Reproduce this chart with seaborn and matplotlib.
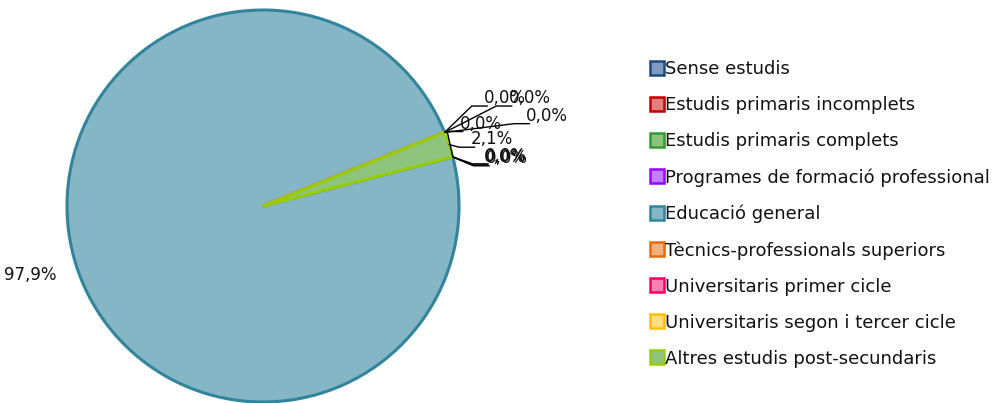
import numpy as np
import matplotlib
matplotlib.use("Agg")
import matplotlib.pyplot as plt
from matplotlib.lines import Line2D
import seaborn as sns

# Dades del gràfic
categories = ["Sense estudis", "Estudis primaris incomplets", "Estudis primaris complets",
              "Programes de formació professional", "Educació general",
              "Tècnics-professionals superiors", "Universitaris primer cicle",
              "Universitaris segon i tercer cicle", "Altres estudis post-secundaris"]
values = [0.0, 0.0, 0.0, 0.0, 97.9, 0.0, 0.0, 0.0, 2.1]
pct_labels = ["0,0%", "0,0%", "0,0%", "0,0%", "97,9%", "0,0%", "0,0%", "0,0%", "2,1%"]

# Colors (vora fosca, farciment clar)
edge_colors = ["#1F497D", "#C00000", "#339933", "#9900FF", "#31849B",
               "#E36C09", "#FF0066", "#FFC000", "#99CC00"]
fill_colors = ["#7F9CC0", "#E07F7F", "#8CC47F", "#C07FFF", "#84B6C5",
               "#F1B07F", "#FF7FB0", "#FFDF7F", "#8FC47F"]

# Posicions de les etiquetes (unitats del radi)
label_pos = [(1.245, 0.245), (1.235, 0.25), (1.24, 0.255), (1.11, 0.42),
             (-1.19, -0.35), (1.235, 0.55), (1.36, 0.55), (1.45, 0.46), (1.17, 0.34)]

sns.set_theme(style="white")
plt.rcParams['font.family'] = ['DejaVu Sans']

fig = plt.figure(figsize=(10.05, 4.03), dpi=100)
R = 196
ax = fig.add_axes([(263 - R) / 1005, (197 - R) / 403, 2 * R / 1005, 2 * R / 403])

wedges, _ = ax.pie(values, colors=fill_colors, startangle=14.5, counterclock=False,
                   radius=1.0, wedgeprops=dict(linewidth=2.2))
for w, ec in zip(wedges, edge_colors):
    w.set_edgecolor(ec)
    w.set_clip_on(False)
ax.set_xlim(-1, 1)
ax.set_ylim(-1, 1)
ax.set_aspect("equal")

# Etiquetes amb línies guia
for w, txt, (lx, ly), v in zip(wedges, pct_labels, label_pos, values):
    if v > 50:
        ax.text(lx, ly, txt, ha="center", va="center", fontsize=12, color="#111111")
        continue
    mid = np.deg2rad((w.theta1 + w.theta2) / 2)
    ax0, ay0 = np.cos(mid), np.sin(mid)
    hw = 0.11
    ex, ey = lx - hw - 0.06, ly - 0.04
    ax.plot([ax0, ex, lx - hw + 0.02], [ay0, ey, ey], color="black", lw=1, clip_on=False)
    ax.text(lx, ly, txt, ha="center", va="center", fontsize=12, color="#111111", clip_on=False)

# Llegenda
handles = [Line2D([0], [0], marker="s", linestyle="none", markersize=9.5,
                  markerfacecolor=fc, markeredgecolor=ec, markeredgewidth=1.8)
           for fc, ec in zip(fill_colors, edge_colors)]
fig.legend(handles, categories, loc="upper left", bbox_to_anchor=(651 / 1005, 1 - 60 / 403),
           frameon=False, fontsize=13, handlelength=0.7, handletextpad=0.1,
           labelspacing=0.997, borderpad=0, borderaxespad=0, labelcolor="#111111")

fig.savefig("out.png", dpi=100)
